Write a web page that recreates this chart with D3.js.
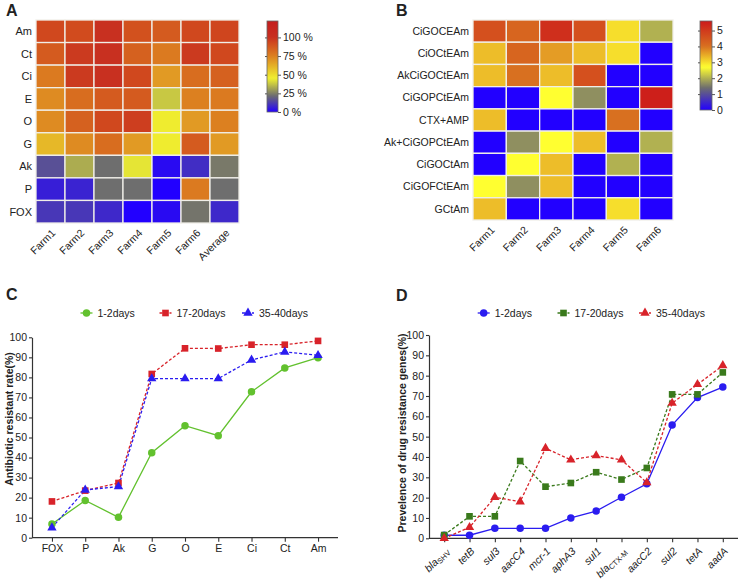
<!DOCTYPE html>
<html><head><meta charset="utf-8">
<script src="https://cdn.jsdelivr.net/npm/d3@7"></script>
<style>
body{margin:0;background:#fff;}
text{font-family:"Liberation Sans",Arial,Helvetica,sans-serif;fill:#222;}
</style>
</head><body>
<svg id="chart" width="739" height="579"></svg>
<script>
// ---------- Panel A data ----------
const heatARows = ["Am","Ct","Ci","E","O","G","Ak","P","FOX"];
const heatACols = ["Farm1","Farm2","Farm3","Farm4","Farm5","Farm6","Average"];
const heatAValues = [
  [93, 92, 100, 90, 87, 93, 94],
  [87, 97, 100, 85, 77, 97, 93],
  [77, 97, 100, 93, 68, 81, 85],
  [72, 81, 87, 87, 38, 75, 77],
  [72, 85, 93, 96, 46, 68, 75],
  [60, 72, 81, 68, 46, 87, 68],
  [16, 33, 22, 43, 2, 9, 24],
  [6, 7, 22, 22, 0, 77, 22],
  [11, 11, 8, 0, 2, 23, 8]
];
const heatATicks = [0, 25, 50, 75, 100];

// ---------- Panel B data ----------
const heatBRows = ["CiGOCEAm","CiOCtEAm","AkCiGOCtEAm","CiGOPCtEAm","CTX+AMP","Ak+CiGOPCtEAm","CiGOCtAm","CiGOFCtEAm","GCtAm"];
const heatBCols = ["Farm1","Farm2","Farm3","Farm4","Farm5","Farm6"];
const heatBValues = [
  [4.6, 4.2, 5.2, 4.6, 3.0, 2.0],
  [3.3, 4.2, 3.6, 3.3, 3.0, 0],
  [3.3, 4.0, 3.3, 4.6, 0, 0],
  [0, 0, 2.7, 1.7, 0, 5.5],
  [3.3, 0, 0, 0, 4.0, 0],
  [0, 1.7, 2.7, 3.3, 0, 2.0],
  [0, 2.7, 3.3, 0, 2.0, 0],
  [2.7, 1.7, 3.3, 0, 0, 0],
  [3.3, 0, 0, 0, 3.0, 0]
];
const heatBTicks = [0, 1, 2, 3, 4, 5];

// ---------- Panel C data ----------
const catsC = ["FOX","P","Ak","G","O","E","Ci","Ct","Am"];
const seriesCNames = ["1-2days","17-20days","35-40days"];
const c_1_2 = [6.8, 18.6, 10.2, 42.4, 55.9, 50.9, 72.8, 84.7, 89.8];
const c_17_20 = [18.1, 23.5, 27.3, 81.7, 94.5, 94.4, 96.3, 96.3, 98.2];
const c_35_40 = [5.0, 23.8, 25.5, 79.4, 79.4, 79.4, 88.7, 92.7, 91.0];

// ---------- Panel D data ----------
const catsD = ["blaSHV","tetB","sul3","aacC4","mcr-1","aphA3","sul1","blaCTX-M","aacC2","sul2","tetA","aadA"];
const catsDMain = ["bla","tetB","sul3","aacC4","mcr-1","aphA3","sul1","bla","aacC2","sul2","tetA","aadA"];
const catsDSub = ["SHV","","","","","","","CTX-M","","","",""];
const seriesDNames = ["1-2days","17-20days","35-40days"];
const d_1_2 = [1.5, 1.5, 4.9, 4.9, 4.9, 10.0, 13.4, 20.2, 26.8, 55.7, 69.2, 74.4];
const d_17_20 = [1.6, 10.8, 10.8, 38.0, 25.4, 27.2, 32.5, 28.9, 34.6, 70.8, 70.8, 81.6];
const d_35_40 = [0, 5.4, 20.2, 18.0, 44.3, 38.6, 40.7, 38.6, 27.4, 66.5, 75.7, 85.0];

const yTicks = [0,10,20,30,40,50,60,70,80,90,100];

// ---------- setup ----------
const svg = d3.select("#chart");
svg.append("rect").attr("width",739).attr("height",579).attr("fill","#fff");
const defs = svg.append("defs");

[["A",6,16],["B",396,16],["C",6,300],["D",396,301]].forEach(([t,x,y])=>{
  svg.append("text").attr("x",x).attr("y",y).attr("font-size",16).attr("font-weight","bold").attr("fill","#000").text(t);
});

const colorA = d3.scaleLinear()
  .domain([0, 22, 45, 75, 93, 100, 122])
  .range(["#2200ff","#6e6e6e","#f0f030","#dc8020","#d0481e","#c83020","#c41e1e"])
  .interpolate(d3.interpolateRgb).clamp(true);
const colorB = d3.scaleLinear()
  .domain([0, 1.4, 2.7, 4.0, 5.6])
  .range(["#2200ff","#6e6e6e","#ffff30","#d87020","#cc1a1a"])
  .interpolate(d3.interpolateRgb).clamp(true);

function heatmap(rows, cols, values, xr, yr, color, rowFont, colFont){
  const x = d3.scaleBand().domain(cols).range(xr);
  const y = d3.scaleBand().domain(rows).range(yr);
  const g = svg.append("g");
  rows.forEach((r,i)=>cols.forEach((c,j)=>{
    g.append("rect").attr("x",x(c)).attr("y",y(r))
      .attr("width",x.bandwidth()).attr("height",y.bandwidth())
      .attr("fill",color(values[i][j]))
      .attr("stroke","#f0eee8").attr("stroke-width",1.3);
  }));
  rows.forEach(r=>{
    g.append("text").attr("x",xr[0]-4).attr("y",y(r)+y.bandwidth()/2)
      .attr("dy","0.35em").attr("text-anchor","end").attr("font-size",rowFont).text(r);
  });
  cols.forEach(c=>{
    const cx = x(c)+x.bandwidth()/2;
    g.append("text").attr("transform",`translate(${cx+3},${yr[1]+8}) rotate(-45)`)
      .attr("dy","0.35em").attr("text-anchor","end").attr("font-size",colFont).text(c);
  });
}

function colorbar(id, x0, w, y0, y1, maxV, color, ticks, fmt){
  const s = d3.scaleLinear().domain([0,maxV]).range([y1,y0]);
  const grad = defs.append("linearGradient").attr("id",id)
    .attr("x1",0).attr("y1",1).attr("x2",0).attr("y2",0);
  d3.range(0,1.0001,0.025).forEach(t=>{
    grad.append("stop").attr("offset",t).attr("stop-color",color(t*maxV));
  });
  svg.append("rect").attr("x",x0).attr("y",y0).attr("width",w).attr("height",y1-y0)
    .attr("fill",`url(#${id})`).attr("stroke","#666").attr("stroke-width",0.8);
  const ax = svg.append("g").attr("transform",`translate(${x0+w},0)`)
    .call(d3.axisRight(s).tickValues(ticks).tickSize(3).tickPadding(2).tickFormat(fmt));
  ax.select(".domain").remove();
  ax.selectAll("line").attr("stroke","#555");
  ax.selectAll("text").attr("font-size",10.5).attr("fill","#222").attr("font-family",'"Liberation Sans",Arial,sans-serif');
  const axl = svg.append("g").attr("transform",`translate(${x0},0)`)
    .call(d3.axisLeft(s).tickValues(ticks.slice(1)).tickSize(2).tickFormat(""));
  axl.select(".domain").remove();
  axl.selectAll("line").attr("stroke","#555");
}

heatmap(heatARows, heatACols, heatAValues, [36,239], [20,223], colorA, 11, 10.5);
colorbar("gradA", 267, 11, 21, 112, 122, colorA, heatATicks, d=>d+" %");
heatmap(heatBRows, heatBCols, heatBValues, [473,673], [20,220], colorB, 10.5, 10.5);
colorbar("gradB", 700, 12, 21, 110, 5.6, colorB, heatBTicks, d=>d);

// ---------- line charts ----------
const symbols = {circle:d3.symbolCircle, square:d3.symbolSquare, triangle:d3.symbolTriangle};
const symSize = {circle:44, square:44, triangle:38};

function styleAxis(ax){
  ax.selectAll(".domain").attr("stroke","#333").attr("stroke-width",1.2);
  ax.selectAll(".tick line").attr("stroke","#333").attr("stroke-width",1.1);
  ax.selectAll("text").attr("font-size",10.5).attr("fill","#222").attr("font-family",'"Liberation Sans",Arial,sans-serif');
}

function lineChart(cats, series, xr, yr, opts){
  const x = d3.scalePoint().domain(cats).range(xr).padding(0.6);
  const y = d3.scaleLinear().domain([0,100]).range(yr);
  const ya = svg.append("g").attr("transform",`translate(${xr[0]},0)`)
    .call(d3.axisLeft(y).tickValues(yTicks).tickSize(3).tickPadding(2).tickSizeOuter(0));
  styleAxis(ya);
  const xa = svg.append("g").attr("transform",`translate(0,${yr[0]})`)
    .call(d3.axisBottom(x).tickSize(4).tickPadding(3).tickSizeOuter(0).tickFormat(opts.rotated ? "" : d=>d));
  styleAxis(xa);
  xa.select(".domain").attr("d",`M${xr[0]},0H${xr[1]}`);
  if(opts.rotated){
    cats.forEach((c,i)=>{
      const t = svg.append("text")
        .attr("transform",`translate(${x(c)+3},${yr[0]+11}) rotate(-45)`)
        .attr("text-anchor","end").attr("dy","0.35em").attr("font-size",10.5).attr("font-style","italic");
      t.append("tspan").text(opts.main[i]);
      if(opts.sub[i]) t.append("tspan").attr("font-size",7.5).attr("font-style","normal").attr("dy",2).text(opts.sub[i]);
    });
  }
  svg.append("text").attr("transform",`translate(${opts.titleX},${opts.titleY}) rotate(-90)`)
    .attr("text-anchor","middle").attr("font-size",10.5).attr("font-weight","bold").attr("fill","#111").text(opts.title);
  const line = d3.line().x((d,i)=>x(cats[i])).y(d=>y(d));
  series.forEach(s=>{
    svg.append("path").datum(s.values).attr("d",line).attr("fill","none")
      .attr("stroke",s.color).attr("stroke-width",1.3)
      .attr("stroke-dasharray",s.dash ? "3,2" : null);
  });
  series.forEach(s=>{
    s.values.forEach((v,i)=>{
      svg.append("path").attr("d",d3.symbol().type(symbols[s.shape]).size(symSize[s.shape])())
        .attr("transform",`translate(${x(cats[i])},${y(v)})`).attr("fill",s.color);
    });
  });
  // legend
  series.forEach((s,k)=>{
    const lx = opts.legendX[k], ly = opts.legendY;
    svg.append("line").attr("x1",lx-6).attr("x2",lx+6).attr("y1",ly).attr("y2",ly)
      .attr("stroke",s.color).attr("stroke-width",1.3).attr("stroke-dasharray",s.dash ? "3,2" : null);
    svg.append("path").attr("d",d3.symbol().type(symbols[s.shape]).size(symSize[s.shape])())
      .attr("transform",`translate(${lx},${ly})`).attr("fill",s.color);
    svg.append("text").attr("x",lx+11).attr("y",ly).attr("dy","0.35em").attr("font-size",10.5).text(s.name);
  });
}

lineChart(catsC, [
  {name:seriesCNames[0], values:c_1_2, color:"#62c12e", shape:"circle", dash:false},
  {name:seriesCNames[1], values:c_17_20, color:"#d8232a", shape:"square", dash:true},
  {name:seriesCNames[2], values:c_35_40, color:"#2a1cf0", shape:"triangle", dash:true}
], [32,338], [537.7,337.3], {
  rotated:false, title:"Antibiotic resistant rate(%)", titleX:13, titleY:419,
  legendX:[86.5,165.5,248], legendY:313
});

lineChart(catsD, [
  {name:seriesDNames[0], values:d_1_2, color:"#2a1cf0", shape:"circle", dash:false},
  {name:seriesDNames[1], values:d_17_20, color:"#3a7a1c", shape:"square", dash:true},
  {name:seriesDNames[2], values:d_35_40, color:"#d8232a", shape:"triangle", dash:true}
], [429,738], [538.3,335], {
  rotated:true, main:catsDMain, sub:catsDSub,
  title:"Prevelence of drug resistance genes(%)", titleX:405.5, titleY:433,
  legendX:[483.7,563.5,645], legendY:313
});
</script>
</body></html>
